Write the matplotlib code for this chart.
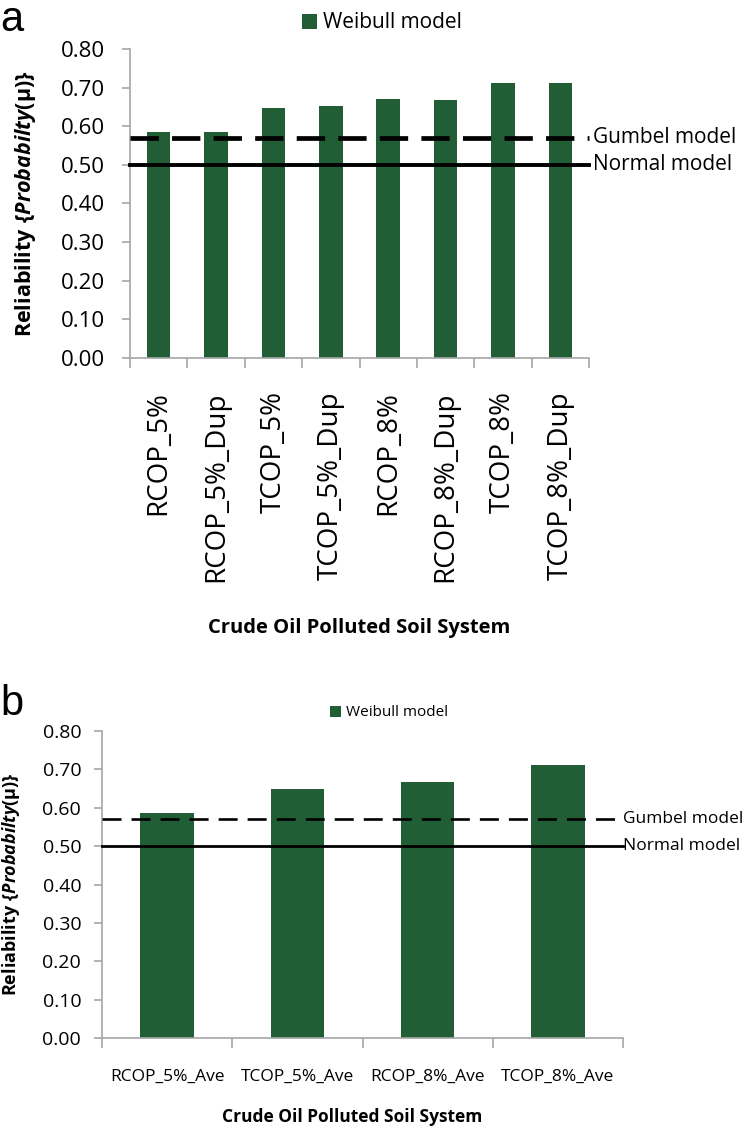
import numpy as np
import matplotlib
matplotlib.use("Agg")
import matplotlib.pyplot as plt
from matplotlib.ticker import FixedLocator, FormatStrFormatter

plt.rcParams['font.family'] = ['Open Sans', 'DejaVu Sans']
plt.rcParams['mathtext.fontset'] = 'custom'
plt.rcParams['mathtext.rm'] = 'Open Sans'
plt.rcParams['mathtext.bf'] = 'Open Sans:bold'
plt.rcParams['mathtext.it'] = 'Open Sans:italic'
plt.rcParams['mathtext.bfit'] = 'Open Sans:italic:bold'

# panel a: each soil system run
systems_a = ["RCOP_5%", "RCOP_5%_Dup", "TCOP_5%", "TCOP_5%_Dup",
             "RCOP_8%", "RCOP_8%_Dup", "TCOP_8%", "TCOP_8%_Dup"]
weibull_a = [0.586, 0.586, 0.648, 0.653, 0.671, 0.669, 0.713, 0.713]

# panel b: averages
systems_b = ["RCOP_5%_Ave", "TCOP_5%_Ave", "RCOP_8%_Ave", "TCOP_8%_Ave"]
weibull_b = [0.586, 0.649, 0.668, 0.711]

gumbel = 0.57
normal = 0.50
yticks = [0.0, 0.1, 0.2, 0.3, 0.4, 0.5, 0.6, 0.7, 0.8]

bar_color = '#225e35'
grey = '#a6a6a6'
ylab = r"$\mathbf{Reliability\ \{}\mathbfit{Probabilty}\mathbf{(µ)\}}$"

W, H = 748, 1128
fig = plt.figure(figsize=(W / 100, H / 100), dpi=100)


def px_axes(l, t, r, b):
    return fig.add_axes([l / W, 1 - b / H, (r - l) / W, (b - t) / H])


def draw_panel(ax, cats, vals, lw_g, dash, lw_n, tick_fs, tick_pad, xfs, rot, lab_pad,
               side_fs, side_x, ylab_fs, leg_fs, leg_xy):
    x = np.arange(len(cats))
    ax.bar(x, vals, width=0.41, color=bar_color, zorder=1, label="Weibull model")
    ax.axhline(gumbel, color='black', lw=lw_g, linestyle=(0, dash), zorder=3, clip_on=False)
    ax.axhline(normal, color='black', lw=lw_n, zorder=3, clip_on=False)
    ax.text(side_x, gumbel, "Gumbel model", transform=ax.get_yaxis_transform(),
            va='center', ha='left', fontsize=side_fs)
    ax.text(side_x, normal, "Normal model", transform=ax.get_yaxis_transform(),
            va='center', ha='left', fontsize=side_fs)

    ax.set_xlim(-0.5, len(cats) - 0.5)
    ax.set_ylim(0, 0.8)
    ax.set_yticks(yticks)
    ax.yaxis.set_major_formatter(FormatStrFormatter('%.2f'))
    ax.set_xticks(x)
    ax.set_xticklabels(cats, rotation=rot, fontsize=xfs)
    ax.xaxis.set_minor_locator(FixedLocator(np.arange(len(cats) + 1) - 0.5))
    ax.tick_params(axis='x', which='major', length=0, pad=lab_pad)
    ax.tick_params(axis='x', which='minor', length=7, color=grey, width=1.2)
    ax.tick_params(axis='y', length=6, color=grey, width=1.2, labelsize=tick_fs, pad=tick_pad)
    for s in ['top', 'right']:
        ax.spines[s].set_visible(False)
    for s in ['left', 'bottom']:
        ax.spines[s].set_color(grey)
        ax.spines[s].set_linewidth(1.2)
    ax.set_ylabel(ylab, fontsize=ylab_fs)
    ax.legend(loc='center', bbox_to_anchor=(leg_xy[0] / W, 1 - leg_xy[1] / H),
              bbox_transform=fig.transFigure, frameon=False, fontsize=leg_fs,
              handlelength=0.7, handleheight=0.7, handletextpad=0.3)


ax1 = px_axes(130, 49, 589, 358)
draw_panel(ax1, systems_a, weibull_a, 3.4, (6.0, 2.8), 2.8, 16, 12, 20, 90, 24,
           15, 1.008, 15.5, 15, (382, 23))
ax1.yaxis.set_label_coords((38 - 130) / (589 - 130), 0.5)
fig.text(359 / W, 1 - 628 / H, "Crude Oil Polluted Soil System", ha='center', va='center',
         fontsize=14.5, fontweight='bold')

ax2 = px_axes(102, 731, 623, 1038)
draw_panel(ax2, systems_b, weibull_b, 1.9, (7.2, 3.8), 2.0, 14, 9, 12.5, 0, 22,
           12.5, 1.0, 13, 11, (389, 713))
ax2.yaxis.set_label_coords((22 - 102) / (623 - 102), 0.5)
fig.text(352 / W, 1 - 1117 / H, "Crude Oil Polluted Soil System", ha='center', va='center',
         fontsize=12.5, fontweight='bold')

fig.text(0.0, 1.0, "a", ha='left', va='top', fontsize=30, family='Liberation Sans')
fig.text(0.0, 1 - 684 / H, "b", ha='left', va='top', fontsize=30, family='Liberation Sans')

fig.savefig("out.png", dpi=100)
